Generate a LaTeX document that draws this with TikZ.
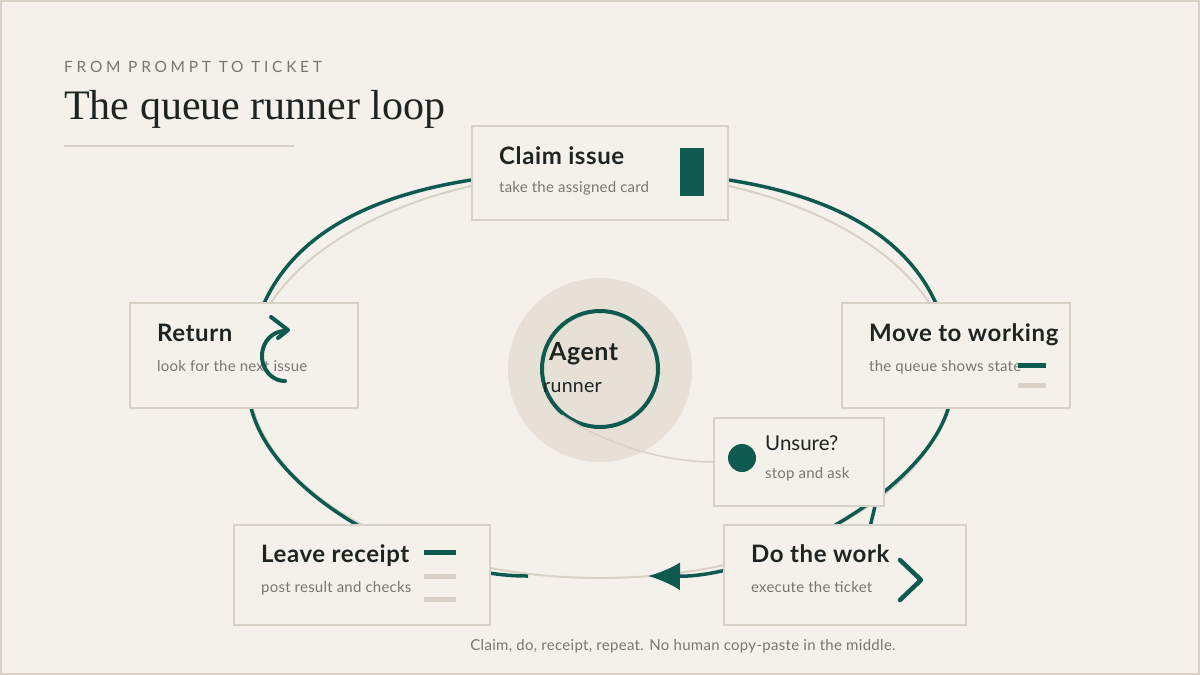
\documentclass[tikz,border=0pt]{standalone}
\usepackage{fontspec}
\setmainfont{Lato}
\newfontfamily\serifhead{Liberation Serif}
\usetikzlibrary{arrows.meta}
\definecolor{paper}{HTML}{F4F1EA}
\definecolor{rule}{HTML}{D8D2C6}
\definecolor{pine}{HTML}{0E5A50}
\definecolor{ink}{HTML}{1E2422}
\definecolor{mute}{HTML}{77776F}
\definecolor{halo}{HTML}{E6E0D6}
\tikzset{
  card/.style={draw=rule, line width=2pt, fill=paper, inner sep=0pt},
  cardtitle/.style={anchor=base west, inner sep=0pt, text=ink, font=\fontsize{24}{26}\selectfont\bfseries\addfontfeature{LetterSpace=2.5}},
  cardnote/.style={anchor=base west, inner sep=0pt, text=mute, font=\fontsize{15}{17}\selectfont\addfontfeature{LetterSpace=1.5}},
  loopline/.style={draw=pine, line width=3.5pt},
  iconline/.style={draw=pine, line width=4.5pt, line cap=round, line join=round}
}

\begin{document}
\begin{tikzpicture}[x=1pt,y=-1pt]
        %画布;
        \fill[paper] (0,0) rectangle (1200,675);
        \draw[rule, line width=2pt] (1,1) rectangle (1199,674);
        \useasboundingbox (0,0) rectangle (1200,675);
        %标题
        \node[anchor=base west, inner sep=0pt, text=mute, font=\fontsize{15.5}{17}\selectfont\addfontfeature{LetterSpace=24}] (kicker) at (64,72) {FROM PROMPT TO TICKET};
        \node[anchor=base west, inner sep=0pt, text=ink, font=\serifhead\fontsize{42}{46}\selectfont] (title) at (64,119) {The queue runner loop};
        \draw[rule, line width=2pt] (64,146) -- (294,146);
        %环
        \coordinate (loop-s) at (528,576);
        \coordinate (loop-l) at (248,384);
        \coordinate (loop-t) at (600,171);
        \coordinate (loop-r) at (952,384);
        \coordinate (loop-e) at (648,576);
        \draw[rule, line width=2pt] (600,375) ellipse [x radius=352pt, y radius=203pt];
        \draw[loopline][-{Latex[length=32pt,width=28pt]}] (loop-s) .. controls (418,577) and (248,486) .. (loop-l)
            .. controls (248,250) and (355,171) .. (loop-t)
            .. controls (845,171) and (952,250) .. (loop-r)
            .. controls (952,480) and (770,577) .. (loop-e);
        \draw[loopline, line cap=round, line join=round] (870,527) -- (876,502) -- (851,504);
        %中心
        \fill[halo] (600,370) circle (92pt);
        %卡片
        \node[card, minimum width=256pt, minimum height=94pt] (claim) at (600,173) {};
        \node[card, minimum width=228pt, minimum height=105pt] (return) at (244,355.5) {};
        \node[card, minimum width=228pt, minimum height=105pt] (move) at (956,355.5) {};
        \node[card, minimum width=170pt, minimum height=88pt] (unsure) at (799,462) {};
        \node[card, minimum width=256pt, minimum height=100pt] (leave) at (362,575) {};
        \node[card, minimum width=242pt, minimum height=100pt] (work) at (845,575) {};
        \node[circle, draw=pine, line width=4pt, minimum size=116pt, inner sep=0pt] (agent) at (600,369) {};
        \draw[rule, line width=1.5pt] (agent.-130) .. controls (612,448) and (670,462) .. (unsure.west);
        %文字
        \node[cardtitle] at ([shift={(28,39)}]claim.north west) {Claim issue};
        \node[cardnote] at ([shift={(28,67)}]claim.north west) {take the assigned card};
        \node[cardtitle] at ([shift={(28,39)}]return.north west) {Return};
        \node[cardnote] at ([shift={(28,69)}]return.north west) {look for the next issue};
        \node[cardtitle] at ([shift={(28,39)}]move.north west) {Move to working};
        \node[cardnote] at ([shift={(28,69)}]move.north west) {the queue shows state};
        \node[cardtitle, font=\fontsize{20.5}{22}\selectfont] at ([shift={(52,33)}]unsure.north west) {Unsure?};
        \node[cardnote] at ([shift={(52,61)}]unsure.north west) {stop and ask};
        \node[cardtitle] at ([shift={(28,38)}]leave.north west) {Leave receipt};
        \node[cardnote] at ([shift={(28,68)}]leave.north west) {post result and checks};
        \node[cardtitle] at ([shift={(28,38)}]work.north west) {Do the work};
        \node[cardnote] at ([shift={(28,68)}]work.north west) {execute the ticket};
        \node[cardtitle, font=\fontsize{25}{27}\selectfont\bfseries\addfontfeature{LetterSpace=2}] (agent-t) at (549,360) {Agent};
        \node[cardtitle, font=\fontsize{19.5}{21}\selectfont\addfontfeature{LetterSpace=1.5}] (agent-n) at (543,392) {runner};
        %图标
        \fill[pine] (680,148) rectangle (704,196);
        \draw[iconline, line width=4pt, domain=90:272, samples=40, smooth] plot ({285+23*cos(\x)},{356+25*sin(\x)});
        \draw[iconline, line width=4pt] (271,317) -- (288,330) -- (278,338);
        \draw[pine, line width=5pt] (1018,365) -- (1046,365);
        \draw[rule, line width=5pt] (1018,385) -- (1046,385);
        \fill[pine] (742,458) circle (14pt);
        \draw[pine, line width=5pt] (424,552) -- (456,552);
        \draw[rule, line width=5pt] (424,576) -- (456,576) (424,599) -- (456,599);
        \draw[iconline] (900,560) -- (921,580) -- (900,600);
        %说明
        \node[anchor=base, inner sep=0pt, text=mute, font=\fontsize{15}{17}\selectfont\addfontfeature{LetterSpace=2}] (caption) at (683,650) {Claim, do, receipt, repeat. No human copy-paste in the middle.};
\end{tikzpicture}
\end{document}
